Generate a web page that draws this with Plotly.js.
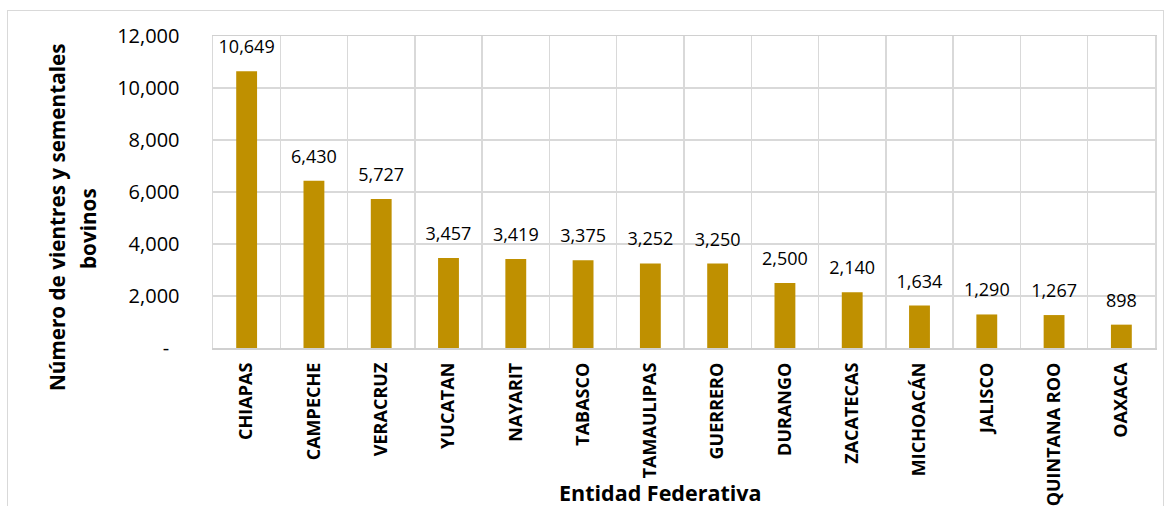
<!DOCTYPE html>
<html>
<head>
<meta charset="utf-8">
<script src="https://cdn.plot.ly/plotly-3.0.1.min.js"></script>
<style>
html,body{margin:0;padding:0;background:#fff;}
#frame{position:absolute;left:7px;top:10px;width:1157px;height:520px;border:1px solid #d9d9d9;box-sizing:border-box;}
#chart{position:absolute;left:0;top:0;width:1170px;height:506px;}
</style>
</head>
<body>
<div id="frame"></div>
<div id="chart"></div>
<script>
const categories = ["CHIAPAS","CAMPECHE","VERACRUZ","YUCATAN","NAYARIT","TABASCO","TAMAULIPAS","GUERRERO","DURANGO","ZACATECAS","MICHOACÁN","JALISCO","QUINTANA ROO","OAXACA"];
const values = [10649,6430,5727,3457,3419,3375,3252,3250,2500,2140,1634,1290,1267,898];
const yTickVals = [0,2000,4000,6000,8000,10000,12000];
const yTickText = ["-\u00a0\u00a0","2,000","4,000","6,000","8,000","10,000","12,000"];
const xTitle = "Entidad Federativa";
const yTitleLines = ["Número de vientres y sementales", "bovinos"];

const FONT = "'Open Sans', 'Noto Sans', sans-serif";

const bars = {
  type: "bar",
  x: categories,
  y: values,
  marker: {color: "#BF9000"},
  hoverinfo: "x+y"
};

const labels = {
  type: "scatter",
  mode: "markers+text",
  x: categories,
  y: values,
  marker: {size: 20, opacity: 0, color: "#fff"},
  text: values.map(v => v.toLocaleString("en-US")),
  textposition: "top center",
  textfont: {family: FONT, size: 18, color: "#000"},
  cliponaxis: false,
  hoverinfo: "skip"
};

const layout = {
  width: 1170, height: 506,
  margin: {l: 213, r: 15, t: 36, b: 158},
  paper_bgcolor: "rgba(0,0,0,0)",
  plot_bgcolor: "#fff",
  bargap: 0.69,
  showlegend: false,
  font: {family: FONT, color: "#000"},
  xaxis: {
    type: "category",
    range: [-0.5, categories.length - 0.5],
    tickangle: -90,
    tickfont: {family: FONT, size: 18, color: "#000", weight: "bold"},
    showgrid: true,
    gridcolor: "#d9d9d9",
    gridwidth: 1.5,
    tickson: "boundaries",
    ticks: "",
    ticklabelstandoff: 6,
    showline: true,
    linecolor: "#d0d0d0",
    linewidth: 1.5,
    mirror: true,
    automargin: false
  },
  yaxis: {
    range: [0, 12000],
    tickvals: yTickVals,
    ticktext: yTickText,
    tickfont: {family: FONT, size: 20, color: "#000"},
    showgrid: true,
    gridcolor: "#d9d9d9",
    gridwidth: 1.5,
    zeroline: false,
    ticks: "",
    ticklabelstandoff: 28,
    showline: true,
    linecolor: "#d9d9d9",
    linewidth: 1.5,
    mirror: true,
    automargin: false
  },
  annotations: [
    {text: "<b>" + xTitle + "</b>", xref: "paper", yref: "paper", x: (660 - 213) / 942, y: (348 - 492) / 312,
     xanchor: "center", yanchor: "middle", showarrow: false,
     font: {family: FONT, size: 21.5, color: "#000"}},
    {text: "<b>" + yTitleLines[0] + "</b>", xref: "paper", yref: "paper", x: (57 - 213) / 942, y: (348 - 218) / 312,
     xanchor: "center", yanchor: "middle", showarrow: false, textangle: -90,
     font: {family: FONT, size: 20.7, color: "#000"}},
    {text: "<b>" + yTitleLines[1] + "</b>", xref: "paper", yref: "paper", x: (88 - 213) / 942, y: (348 - 229) / 312,
     xanchor: "center", yanchor: "middle", showarrow: false, textangle: -90,
     font: {family: FONT, size: 20.7, color: "#000"}}
  ]
};

Plotly.newPlot("chart", [bars, labels], layout, {displayModeBar: false, staticPlot: true});
</script>
</body>
</html>
